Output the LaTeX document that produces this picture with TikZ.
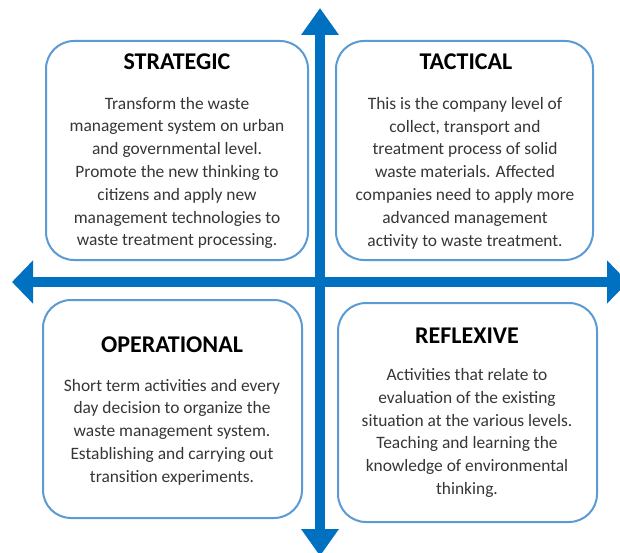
\documentclass[tikz,border=0pt]{standalone}
\usepackage{fontspec}
\setmainfont{Carlito}
\usetikzlibrary{arrows.meta}
\definecolor{arrowblue}{HTML}{0070C0}
\definecolor{boxblue}{HTML}{5B9BD5}
\definecolor{bodygray}{HTML}{363636}
\tikzset{
  quadbox/.style={draw=boxblue, line width=2pt, rounded corners=28pt, fill=white, inner sep=0pt, outer sep=0pt},
  titletext/.style={font=\fontsize{24}{28}\selectfont\bfseries, text=black, inner sep=0pt},
  bodytext/.style={font=\fontsize{17.4}{22.8}\selectfont, text=bodygray, align=center, inner sep=0pt},
  bigarrow/.style={draw=arrowblue, line width=10pt}
}
\begin{document}
\begin{tikzpicture}[x=1pt,y=-1pt]
\useasboundingbox (0,0) rectangle (620,553);
\clip (0,0) rectangle (620,553);
\fill[white] (0,0) rectangle (620,553);
% axes
\coordinate (top) at (320,8);
\coordinate (bottom) at (320,556);
\coordinate (left) at (12,282);
\coordinate (right) at (628,282);
\draw[bigarrow, {Triangle[width=36pt,length=27pt]}-{Triangle[width=36pt,length=27pt]}] (bottom) -- (top);
\draw[bigarrow, {Triangle[width=42pt,length=21pt]}-{Triangle[width=42pt,length=21pt]}] (left) -- (right);
% boxes
\node[quadbox, minimum width=262pt, minimum height=219pt] (sbox) at (177,150.5) {};
\node[quadbox, minimum width=257pt, minimum height=219pt] (tbox) at (464.5,150.5) {};
\node[quadbox, minimum width=259pt, minimum height=218pt] (obox) at (172.5,409) {};
\node[quadbox, minimum width=259pt, minimum height=219pt] (rbox) at (467.5,412.5) {};
% titles
\node[titletext] (stitle) at (177,62) {STRATEGIC};
\node[titletext] (ttitle) at (466,62) {TACTICAL};
\node[titletext] (otitle) at (172,345) {OPERATIONAL};
\node[titletext] (rtitle) at (467,336) {REFLEXIVE};
% bodies
\node[bodytext] (sbody) at (177,173) {Transform the waste\\management system on urban\\and governmental level.\\Promote the new thinking to\\citizens and apply new\\management technologies to\\waste treatment processing.};
\node[bodytext] (tbody) at (465,173) {This is the company level of\\collect, transport and\\treatment process of solid\\waste materials. Affected\\companies need to apply more\\advanced management\\activity to waste treatment.};
\node[bodytext] (obody) at (172,432) {Short term activities and every\\day decision to organize the\\waste management system.\\Establishing and carrying out\\transition experiments.};
\node[bodytext] (rbody) at (467,433) {Activities that relate to\\evaluation of the existing\\situation at the various levels.\\Teaching and learning the\\knowledge of environmental\\thinking.};
\end{tikzpicture}
\end{document}
